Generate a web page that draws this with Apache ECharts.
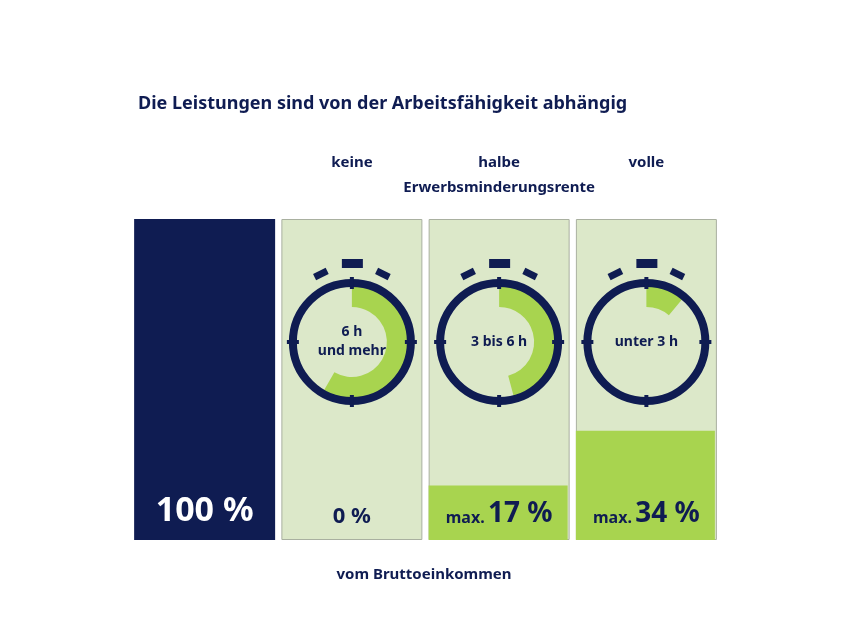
<!DOCTYPE html>
<html><head><meta charset="utf-8">
<script src="https://cdn.jsdelivr.net/npm/echarts@6/dist/echarts.min.js"></script>
<style>html,body{margin:0;background:#fff}#c{width:853px;height:640px}</style>
</head><body><div id="c"></div>
<script>
const categories = ['total', 'keine', 'halbe', 'volle'];
const shares = [100, 0, 17, 34];
const labels = ['100 %', '0 %', 'max. 17 %', 'max. 34 %'];
const clockText = ['', '6 h\nund mehr', '3 bis 6 h', 'unter 3 h'];
const arcDeg = [0, 210, 165, 40];
const headers = ['', 'keine', 'halbe', 'volle'];

const navy = '#0f1c52', green = '#a8d44f', pale = '#dce8c9';
const font = 'Noto Sans';
const chart = echarts.init(document.getElementById('c'));

const grid = { left: 131, right: 133, top: 219, bottom: 100 };
const cx = i => grid.left + (853 - grid.left - grid.right) / 4 * (i + 0.5);
const cy = 342;

const pies = [1, 2, 3].map(i => ({
  type: 'pie', center: [cx(i), cy], radius: [35, 56], startAngle: 90,
  silent: true, label: { show: false }, z: 5,
  data: [{ value: arcDeg[i], itemStyle: { color: green } },
         { value: 360 - arcDeg[i], itemStyle: { color: 'transparent' } }]
}));

const graphics = [];
[1, 2, 3].forEach(i => {
  const x = cx(i);
  graphics.push({ type: 'circle', z: 10, shape: { cx: x, cy: cy, r: 59 },
    style: { fill: 'none', stroke: navy, lineWidth: 8 } });
  // ticks at 12, 3, 6, 9
  [[0, -59], [59, 0], [0, 59], [-59, 0]].forEach(([dx, dy]) => {
    const vert = dx === 0;
    graphics.push({ type: 'rect', z: 11,
      shape: { x: x + dx - (vert ? 2 : 6), y: cy + dy - (vert ? 6 : 2), width: vert ? 4 : 12, height: vert ? 12 : 4 },
      style: { fill: navy } });
  });
  graphics.push({ type: 'rect', z: 10, shape: { x: x - 10, y: 259, width: 21, height: 9 }, style: { fill: navy } });
  [-1, 1].forEach(s => {
    graphics.push({ type: 'rect', z: 10, x: x + s * 31, y: 274, rotation: -s * 0.45,
      shape: { x: -7, y: -3.5, width: 14, height: 7 }, style: { fill: navy } });
  });
  graphics.push({ type: 'text', z: 12, x: x, y: cy, style: { text: clockText[i], fill: navy,
    font: 'bold 14px ' + font, align: 'center', verticalAlign: 'middle', lineHeight: 19 } });
  graphics.push({ type: 'text', x: x, y: 163, style: { text: headers[i], fill: navy,
    font: 'bold 15px ' + font, align: 'center', verticalAlign: 'middle' } });
});
graphics.push({ type: 'text', x: 138, y: 104, style: { text: 'Die Leistungen sind von der Arbeitsfähigkeit abhängig',
  fill: navy, font: 'bold 18px ' + font, verticalAlign: 'middle' } });
graphics.push({ type: 'text', x: cx(2), y: 188, style: { text: 'Erwerbsminderungsrente',
  fill: navy, font: 'bold 15px ' + font, align: 'center', verticalAlign: 'middle' } });
graphics.push({ type: 'text', x: 424, y: 575, style: { text: 'vom Bruttoeinkommen',
  fill: navy, font: 'bold 15px ' + font, align: 'center', verticalAlign: 'middle' } });

chart.setOption({
  animation: false,
  grid: grid,
  xAxis: { type: 'category', data: categories, show: false },
  yAxis: { type: 'value', min: 0, max: 100, show: false },
  graphic: graphics,
  series: [
    { type: 'bar', barWidth: 141, silent: true,
      data: shares.map((v, i) => i === 0 ? { value: 100, itemStyle: { color: navy } }
        : { value: 100, itemStyle: { color: pale, borderColor: '#a9b0a0', borderWidth: 1 } }) },
    { type: 'bar', barWidth: 139, barGap: '-100%', silent: true,
      data: shares.map((v, i) => i === 0 ? { value: 0 } : { value: v, itemStyle: { color: green } }) },
    { type: 'bar', barWidth: 141, barGap: '-100%', silent: true, itemStyle: { color: 'transparent' },
      data: shares.map(() => 100),
      label: { show: true, position: 'insideBottom', distance: 12,
        formatter: p => {
          const t = labels[p.dataIndex];
          if (p.dataIndex === 0) return '{w|' + t + '}';
          if (t.startsWith('max.')) return '{s|max.} {b|' + t.slice(5) + '}';
          return '{m|' + t + '}';
        },
        rich: {
          w: { color: '#fff', fontSize: 34, fontWeight: 'bold', fontFamily: font },
          m: { color: navy, fontSize: 22, fontWeight: 'bold', fontFamily: font },
          s: { color: navy, fontSize: 16, fontWeight: 'bold', fontFamily: font, verticalAlign: 'bottom', padding: [0, 0, 2, 0] },
          b: { color: navy, fontSize: 28, fontWeight: 'bold', fontFamily: font }
        } } },
    ...pies
  ]
});
</script></body></html>
